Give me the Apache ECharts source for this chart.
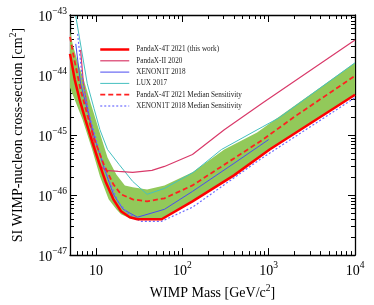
<!DOCTYPE html>
<html><head><meta charset="utf-8">
<script src="https://cdn.jsdelivr.net/npm/echarts@6/dist/echarts.min.js"></script>
<style>html,body{margin:0;padding:0;background:#fff}#c{width:374px;height:305px}</style>
</head><body><div id="c"></div>
<script>
// ---- data: WIMP mass in GeV/c^2, cross-section in units of 1e-47 cm^2 ----
const massPX4T  = [5, 5.68, 6.46, 7.54, 9.02, 10.8, 12.9, 15.9, 19.5, 24.6, 30.2, 57.5, 131, 396, 1026, 10000];
const sigmaPX4T = [2250, 834, 388, 181, 78.0, 35.0, 16.9, 8.49, 5.37, 4.28, 3.96, 3.96, 7.87, 21.3, 57.4, 470];

const massPX4TMed  = [5, 5.68, 6.63, 7.93, 9.50, 12.3, 15.9, 19.5, 26.6, 39.1, 62.1, 131, 198, 857, 2003, 10000];
const sigmaPX4TMed = [4320, 1660, 569, 219, 87.5, 32.4, 15.1, 10.3, 8.49, 7.87, 8.83, 14.5, 21.3, 84.1, 203, 973];

const massPXII  = [6.63, 7.16, 8.35, 9.74, 11.4, 12.9, 18.1, 26.6, 44.5, 62.1, 131, 306, 857, 10000];
const sigmaPXII = [2620, 716, 195, 62.1, 30.0, 25.8, 24.8, 23.9, 25.8, 30.0, 47.4, 123, 346, 3850];

const massX1T  = [5.83, 6.63, 7.93, 9.74, 12.6, 15.9, 20.6, 30.2, 62.1, 131, 396, 1000];
const sigmaX1T = [3300, 716, 265, 84.1, 26.7, 10.3, 5.79, 4.28, 5.79, 11.5, 33.7, 84.1];

const massX1TMed  = [6.13, 6.98, 8.35, 10.8, 14.0, 18.1, 23.4, 32.7, 57.5, 131, 793, 10000];
const sigmaX1TMed = [4840, 804, 219, 57.4, 18.2, 7.59, 4.98, 3.66, 3.66, 6.27, 39.2, 419];

const massLUX  = [5.83, 6.80, 7.93, 9.50, 11.1, 13.6, 18.5, 26.6, 39.1, 62.1, 134, 284, 857, 1327, 10000];
const sigmaLUX = [9620, 2620, 716, 275, 123, 57.4, 32.4, 16.9, 10.3, 12.9, 23.9, 57.4, 138, 195, 1600];

const massBandUp  = [5, 5.39, 6.13, 7.34, 8.79, 10.8, 13.6, 17.2, 21.6, 26.6, 39.1, 62.1, 131, 306, 734, 1434, 10000];
const sigmaBandUp = [5420, 3180, 1660, 773, 321, 123, 42.4, 22.1, 14.5, 13.5, 12.4, 14.5, 23.9, 57.4, 110, 219, 1600];
const massBandLo  = [5, 6.98, 9.02, 11.1, 14.0, 17.2, 19.5, 24.6, 30.2, 57.5, 131, 396, 1026, 10000];
const sigmaBandLo = [614, 181, 57.4, 20.5, 8.49, 5.79, 4.79, 4.11, 3.96, 3.96, 7.87, 21.3, 57.4, 470];

// ---- tick values ----
const xMajorTicks = [10, 100, 1000, 10000];
const xMinorTicks = [6, 7, 8, 9, 20, 30, 40, 50, 60, 70, 80, 90, 200, 300, 400, 500, 600, 700, 800, 900, 2000, 3000, 4000, 5000, 6000, 7000, 8000, 9000];
const yMajorTicks = [1, 10, 100, 1000, 10000];            // 1e-47 ... 1e-43 cm^2
const yMinorTicks = [2, 3, 4, 5, 6, 7, 8, 9, 20, 30, 40, 50, 60, 70, 80, 90,
                     200, 300, 400, 500, 600, 700, 800, 900, 2000, 3000, 4000, 5000, 6000, 7000, 8000, 9000];
const yUnitExponent = -47;

const seriesNames = ['PandaX-4T 2021 (this work)', 'PandaX-II 2020', 'XENON1T 2018', 'LUX 2017',
                     'PandaX-4T 2021 Median Sensitivity', 'XENON1T 2018 Median Sensitivity'];

const FONT = '"Liberation Serif","DejaVu Serif",serif';
const pairs = (xs, ys) => xs.map((x, i) => [x, ys[i]]);
const rich = {
  b: {fontSize: 14, fontFamily: FONT, color: '#000', lineHeight: 18, verticalAlign: 'bottom'},
  s: {fontSize: 9.5, fontFamily: FONT, color: '#000', verticalAlign: 'top', lineHeight: 10}
};
const nameRich = {
  a: {fontSize: 14, fontFamily: FONT, color: '#000', lineHeight: 17, verticalAlign: 'bottom'},
  s: {fontSize: 9.5, fontFamily: FONT, color: '#000', verticalAlign: 'top', lineHeight: 10}
};

function xAx(pos, ticks, len, major) {
  return {
    type: 'log', logBase: 10, min: 5, max: 10000, position: pos,
    axisLine: {show: major, lineStyle: {color: '#000', width: 1.3}},
    axisTick: {show: true, inside: true, length: len, customValues: ticks, lineStyle: {color: '#000', width: 1}},
    axisLabel: (pos === 'bottom' && major) ? {
      show: true, customValues: xMajorTicks, margin: 5, rich: rich,
      formatter: v => { const e = Math.round(Math.log10(v)); return e === 1 ? '{b|10}' : '{b|10}{s|' + e + '}'; }
    } : {show: false},
    splitLine: {show: false}, minorTick: {show: false},
    name: (pos === 'bottom' && major) ? '{a|WIMP Mass [GeV/c}{s|2}{a|]}' : '',
    nameLocation: 'middle', nameGap: 23, nameTextStyle: {rich: nameRich}
  };
}
function yAx(pos, ticks, len, major) {
  return {
    type: 'log', logBase: 10, min: 1, max: 10000, position: pos,
    axisLine: {show: major, lineStyle: {color: '#000', width: 1.3}},
    axisTick: {show: true, inside: true, length: len, customValues: ticks, lineStyle: {color: '#000', width: 1}},
    axisLabel: (pos === 'left' && major) ? {
      show: true, customValues: yMajorTicks, margin: 3, rich: rich,
      formatter: v => '{b|10}{s|\u2212' + Math.abs(Math.round(Math.log10(v)) + yUnitExponent) + '}'
    } : {show: false},
    splitLine: {show: false}, minorTick: {show: false},
    name: (pos === 'left' && major) ? '{a|SI WIMP-nucleon cross-section [cm}{s|2}{a|]}' : '',
    nameLocation: 'middle', nameGap: 45, nameRotate: 90, nameTextStyle: {rich: nameRich}
  };
}

function line(name, xs, ys, color, width, type, z) {
  return {
    name: name, type: 'line', xAxisIndex: 0, yAxisIndex: 0, data: pairs(xs, ys),
    symbol: 'none', showSymbol: false, smooth: false, z: z, silent: true, clip: true,
    lineStyle: {color: color, width: width, type: type}, itemStyle: {color: color}
  };
}

const bandPoly = pairs(massBandUp, sigmaBandUp).concat(pairs(massBandLo, sigmaBandLo).reverse());

const chart = echarts.init(document.getElementById('c'), null, {renderer: 'canvas'});
chart.setOption({
  animation: false,
  backgroundColor: '#fff',
  grid: {left: 60, right: 19, top: 15, bottom: 49, containLabel: false},
  xAxis: [xAx('bottom', xMajorTicks, 7, true), xAx('bottom', xMinorTicks, 4, false),
          xAx('top', xMajorTicks, 7, true), xAx('top', xMinorTicks, 4, false)],
  yAxis: [yAx('left', yMajorTicks, 7, true), yAx('left', yMinorTicks, 4, false),
          yAx('right', yMajorTicks, 7, true), yAx('right', yMinorTicks, 4, false)],
  legend: {
    orient: 'vertical', left: 94, top: 41, itemWidth: 29, itemHeight: 8, itemGap: 4.3,
    textStyle: {fontFamily: FONT, fontSize: 7.2, color: '#222', padding: [0, 0, 0, 2]},
    lineStyle: {width: 'inherit'},
    itemStyle: {opacity: 0},
    data: seriesNames
  },
  series: [
    {
      type: 'custom', xAxisIndex: 0, yAxisIndex: 0, silent: true, z: 1, clip: true,
      data: [bandPoly[0]],
      renderItem: (params, api) => ({
        type: 'polygon',
        shape: {points: bandPoly.map(p => api.coord(p))},
        style: {fill: '#92c95a', stroke: null}
      })
    },
    line(seriesNames[3], massLUX, sigmaLUX, '#45c0c0', 1, 'solid', 3),
    line(seriesNames[1], massPXII, sigmaPXII, '#d93a6a', 1.2, 'solid', 4),
    line(seriesNames[2], massX1T, sigmaX1T, '#4b4bf0', 1, 'solid', 5),
    line(seriesNames[5], massX1TMed, sigmaX1TMed, '#6b6bff', 1.2, [2, 2], 6),
    line(seriesNames[4], massPX4TMed, sigmaPX4TMed, '#ff2020', 1.8, [5, 3], 7),
    line(seriesNames[0], massPX4T, sigmaPX4T, '#ff0000', 2.5, 'solid', 8)
  ]
});
</script></body></html>
